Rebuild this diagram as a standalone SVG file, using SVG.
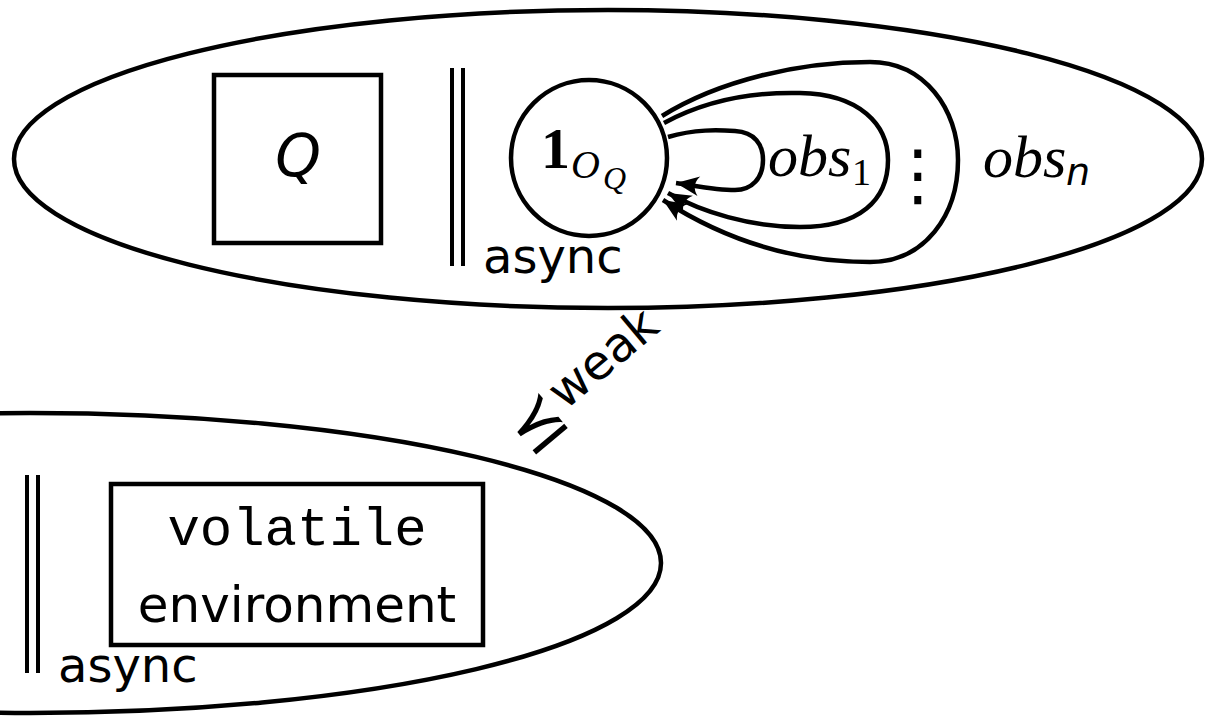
<svg xmlns="http://www.w3.org/2000/svg" width="1206" height="716" viewBox="0 0 1206 716">
<style>
.ln{fill:none;stroke:#000;stroke-width:4.5}
.bar{stroke:#000;stroke-width:4}
.sans{font-family:"DejaVu Sans","Liberation Sans",sans-serif;fill:#000}
.serif{font-family:"Liberation Serif","DejaVu Serif",serif;fill:#000}
.mono{font-family:"Liberation Mono","DejaVu Sans Mono",monospace;fill:#000}
.it{font-style:italic}
</style>
<defs>
<marker id="arr" markerUnits="userSpaceOnUse" markerWidth="30" markerHeight="30" viewBox="-22 -11 26 22" refX="0" refY="0" orient="auto">
<path d="M0,0 L-20,-8.5 Q-13,0 -20,8.5 Z" fill="#000"/>
</marker>
</defs>
<rect width="1206" height="716" fill="#fff"/>
<g id="top-process">
<ellipse class="ln" cx="608" cy="159" rx="594" ry="149"/>
<line class="bar" x1="452" y1="68" x2="452" y2="266"/>
<line class="bar" x1="463" y1="68" x2="463" y2="266"/>
<text class="sans" x="483" y="273" font-size="48">async</text>
</g>
<g id="node-Q">
<rect class="ln" x="214" y="75" width="167" height="168"/>
<text class="sans it" x="298" y="176" font-size="58" text-anchor="middle">Q</text>
</g>
<g id="node-1OQ">
<circle class="ln" cx="589" cy="158" r="78"/>
<text class="serif" x="541" y="168" font-size="58" font-weight="bold">1</text>
<text class="serif it" x="571" y="178" font-size="40">O</text>
<text class="serif it" x="603" y="189" font-size="32">Q</text>
</g>
<g id="connectors">
<path class="ln" d="M668,137 C695,129 718,130 735,131 C755,132 763,145 763,160 C763,178 752,190 735,190 C715,190 697,186 676,183" marker-end="url(#arr)"/>
<path class="ln" d="M664,123 C710,98 760,92 800,93 C860,94 888,125 888,160 C888,200 860,227 800,227 C750,227 702,212 668,193" marker-end="url(#arr)"/>
<path class="ln" d="M662,116 C720,80 800,62 870,62 C925,62 958,110 958,160 C958,215 925,262 870,262 C790,262 720,237 663,200" marker-end="url(#arr)"/>
</g>
<g id="labels">
<text class="serif it" x="768" y="176" font-size="60">obs</text>
<text class="serif" x="852" y="185" font-size="38">1</text>
<text class="sans" x="918" y="198" font-size="68" text-anchor="middle">⋮</text>
<text class="serif it" x="983" y="177" font-size="60">obs</text>
<text class="sans it" x="1066" y="185" font-size="38">n</text>
</g>
<g id="weak-relation">
<text class="sans" font-size="66" text-anchor="middle" transform="translate(551,440) rotate(-40)">⪯</text>
<text class="sans" font-size="48" transform="translate(565,411) rotate(-40)">weak</text>
</g>
<g id="bottom-process">
<ellipse class="ln" cx="30" cy="563" rx="631" ry="150"/>
<line class="bar" x1="27" y1="475" x2="27" y2="673"/>
<line class="bar" x1="38" y1="475" x2="38" y2="673"/>
<text class="sans" x="58" y="682" font-size="48">async</text>
</g>
<g id="node-env">
<rect class="ln" x="111" y="484" width="372" height="161"/>
<text class="mono" x="297" y="545" font-size="54" text-anchor="middle">volatile</text>
<text class="sans" x="297" y="622" font-size="50" text-anchor="middle">environment</text>
</g>
</svg>
